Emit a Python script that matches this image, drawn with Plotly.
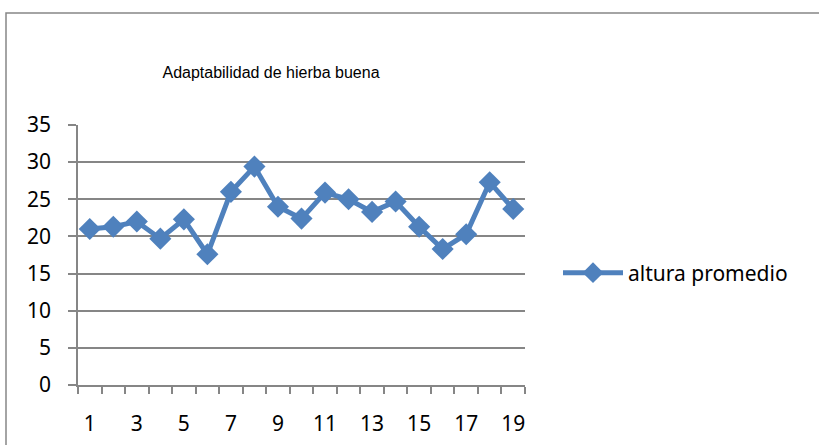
import plotly.graph_objects as go

categories = list(range(1, 20))
altura_promedio = [21.0, 21.3, 22.0, 19.7, 22.3, 17.6, 26.0, 29.4, 24.0, 22.4,
                   25.9, 25.0, 23.3, 24.7, 21.3, 18.3, 20.3, 27.3, 23.7]
x_tick_labels = [1, 3, 5, 7, 9, 11, 13, 15, 17, 19]
y_ticks = [0, 5, 10, 15, 20, 25, 30, 35]

BLUE = "#4F81BD"
GRAY = "#868686"
TICKFONT = dict(family="Noto Sans, Open Sans, sans-serif", size=21, color="#000000")

fig = go.Figure()
fig.add_trace(go.Scatter(
    x=categories, y=altura_promedio, mode="lines+markers",
    name="altura promedio",
    line=dict(color=BLUE, width=5),
    marker=dict(symbol="diamond", size=17, color=BLUE),
))

fig.update_layout(
    width=819, height=445,
    margin=dict(l=78, r=294, t=125, b=60),
    paper_bgcolor="white", plot_bgcolor="white",
    title=dict(text="Adaptabilidad de hierba buena", x=271/819, xref="container",
               xanchor="center", y=1-72/445, yref="container", yanchor="middle",
               font=dict(family="Liberation Sans, Arial", size=16, color="#000")),
    showlegend=True,
    legend=dict(x=(558-78)/447, y=(385-273)/260, xanchor="left", yanchor="middle",
                font=TICKFONT, itemwidth=60, bgcolor="rgba(0,0,0,0)"),
    xaxis=dict(range=[0.5, 19.5], tickmode="array", tickvals=x_tick_labels,
               ticktext=[str(v) for v in x_tick_labels], ticks="", showgrid=False,
               showline=True, linecolor=GRAY, linewidth=1.5, zeroline=False,
               tickfont=TICKFONT, ticklabelstandoff=19, automargin=False,
               minor=dict(tickmode="linear", tick0=0.5, dtick=1, ticks="outside",
                          ticklen=7, tickcolor=GRAY, tickwidth=1.5, showgrid=False)),
    yaxis=dict(range=[0, 35], tickmode="array", tickvals=y_ticks,
               ticktext=[str(v) for v in y_ticks], ticks="outside",
               ticklen=8, tickcolor=GRAY, tickwidth=1.5, showgrid=True,
               gridcolor=GRAY, gridwidth=1.5, showline=True, linecolor=GRAY,
               linewidth=1.5, zeroline=False, tickfont=TICKFONT, automargin=False,
               ticklabelstandoff=13),
    shapes=[dict(type="rect", xref="paper", yref="paper",
                 x0=(6-78)/447, x1=2.0, y0=-1.0, y1=(385-13)/260,
                 line=dict(color=GRAY, width=1.5), fillcolor="rgba(0,0,0,0)", layer="below")],
)

fig.write_html("out.html", config={"displayModeBar": False},
               post_script="document.body.style.margin='0';")
